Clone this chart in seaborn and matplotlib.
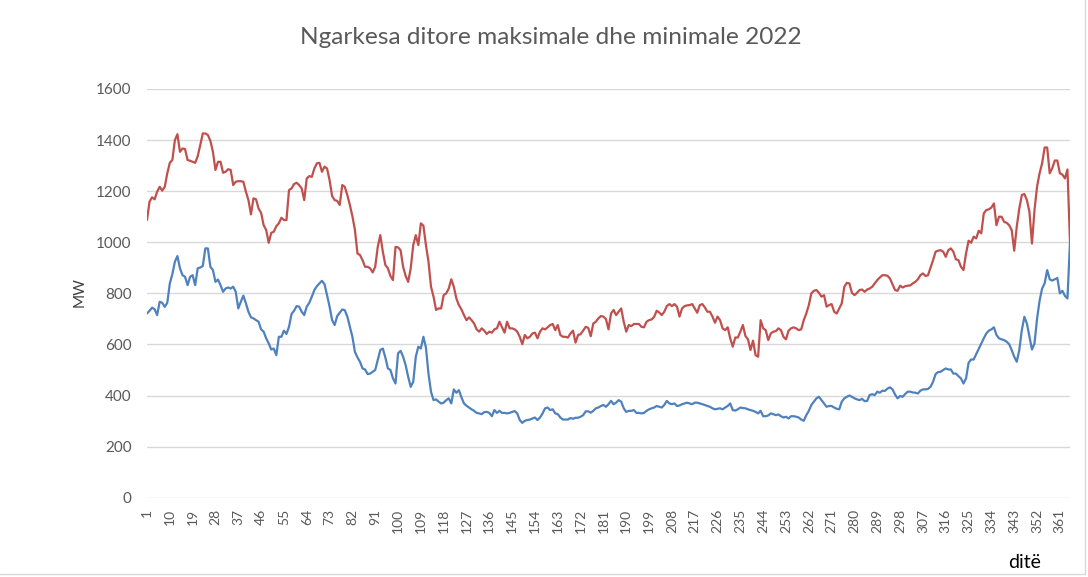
import numpy as np
import pandas as pd
import matplotlib
matplotlib.use("Agg")
import matplotlib.pyplot as plt
import seaborn as sns
from matplotlib.lines import Line2D

# daily maximum load (MW), day 1..365
max_load = [
    1087, 1159, 1176, 1168, 1198, 1217, 1202, 1217, 1270, 1311,
    1322, 1400, 1423, 1354, 1367, 1365, 1322, 1319, 1315, 1311,
    1337, 1380, 1426, 1426, 1420, 1397, 1354, 1283, 1315, 1315,
    1272, 1276, 1286, 1283, 1224, 1237, 1239, 1239, 1237, 1198,
    1165, 1109, 1172, 1168, 1132, 1115, 1067, 1048, 998, 1037,
    1041, 1063, 1074, 1096, 1087, 1087, 1204, 1211, 1228, 1233,
    1224, 1211, 1165, 1250, 1259, 1256, 1289, 1309, 1311, 1276,
    1296, 1289, 1243, 1181, 1165, 1162, 1146, 1224, 1217, 1185,
    1146, 1102, 1048, 956, 950, 930, 904, 904, 898, 882,
    904, 982, 1028, 963, 911, 898, 868, 852, 982, 980,
    969, 904, 868, 845, 898, 989, 1028, 989, 1074, 1065,
    989, 925, 826, 787, 735, 741, 741, 793, 800, 819,
    855, 826, 780, 754, 737, 715, 695, 706, 695, 682,
    659, 650, 663, 654, 641, 650, 646, 659, 663, 689,
    667, 646, 689, 663, 663, 659, 650, 630, 601, 637,
    624, 630, 643, 646, 624, 650, 663, 659, 667, 676,
    680, 656, 676, 637, 630, 630, 627, 643, 654, 607,
    637, 640, 654, 669, 665, 632, 682, 689, 702, 711,
    709, 699, 659, 721, 735, 715, 728, 741, 689, 650,
    676, 672, 680, 680, 680, 669, 667, 689, 695, 698,
    708, 732, 725, 715, 728, 750, 758, 750, 758, 748,
    709, 741, 750, 753, 754, 758, 741, 724, 754, 758,
    745, 728, 728, 709, 685, 709, 695, 663, 656, 667,
    624, 591, 627, 627, 650, 676, 633, 620, 578, 615,
    558, 552, 695, 663, 656, 617, 643, 650, 652, 663,
    656, 630, 620, 654, 663, 667, 663, 656, 659, 695,
    721, 754, 800, 810, 813, 802, 787, 793, 748, 754,
    758, 728, 721, 741, 761, 826, 841, 839, 802, 793,
    802, 813, 815, 806, 815, 819, 826, 839, 852, 862,
    871, 871, 869, 858, 835, 813, 810, 830, 823, 828,
    830, 831, 839, 845, 855, 871, 878, 868, 871, 901,
    930, 963, 967, 969, 963, 943, 969, 976, 963, 933,
    930, 904, 891, 956, 1006, 998, 1022, 1015, 1045, 1035,
    1113, 1126, 1129, 1136, 1152, 1067, 1100, 1100, 1080, 1076,
    1067, 1048, 967, 1061, 1132, 1185, 1189, 1165, 1119, 995,
    1126, 1217, 1270, 1309, 1371, 1371, 1270, 1290, 1320, 1320,
    1270, 1265, 1250, 1285, 1000,
]

# daily minimum load (MW), day 1..365
min_load = [
    721, 732, 744, 738, 715, 767, 763, 747, 763, 839,
    875, 924, 946, 898, 871, 865, 832, 865, 871, 832,
    898, 901, 907, 976, 976, 904, 891, 845, 854, 832,
    806, 819, 823, 819, 826, 806, 741, 767, 791, 761,
    728, 706, 702, 695, 689, 659, 650, 624, 604, 580,
    584, 558, 630, 630, 654, 641, 669, 719, 732, 750,
    748, 728, 715, 748, 763, 787, 813, 828, 839, 849,
    836, 793, 748, 695, 676, 711, 724, 737, 734, 709,
    669, 630, 571, 549, 532, 506, 502, 484, 486, 493,
    500, 539, 578, 584, 549, 506, 500, 467, 447, 565,
    575, 552, 519, 473, 434, 454, 552, 591, 584, 630,
    588, 486, 415, 382, 385, 376, 369, 372, 382, 389,
    369, 424, 411, 421, 393, 369, 360, 353, 346, 340,
    332, 330, 327, 335, 336, 332, 319, 343, 332, 340,
    332, 332, 330, 332, 336, 339, 330, 304, 293, 301,
    304, 306, 310, 314, 304, 314, 330, 350, 353, 343,
    346, 330, 327, 314, 306, 306, 306, 312, 309, 313,
    313, 317, 323, 338, 338, 333, 340, 350, 353, 359,
    363, 356, 366, 379, 366, 372, 382, 376, 350, 336,
    340, 340, 343, 332, 332, 330, 332, 340, 346, 350,
    353, 359, 356, 353, 363, 379, 369, 366, 369, 359,
    361, 366, 369, 372, 369, 366, 372, 372, 369, 366,
    363, 359, 356, 350, 346, 348, 350, 346, 353, 359,
    369, 343, 341, 346, 353, 351, 350, 346, 343, 340,
    336, 330, 340, 319, 319, 322, 330, 327, 323, 326,
    319, 314, 317, 310, 319, 319, 317, 314, 306, 301,
    323, 340, 363, 376, 389, 395, 382, 369, 356, 359,
    359, 353, 348, 346, 376, 389, 395, 400, 395, 389,
    385, 382, 387, 378, 379, 402, 405, 402, 415, 411,
    419, 418, 427, 432, 424, 404, 389, 398, 395, 406,
    415, 415, 412, 411, 408, 419, 424, 424, 426, 434,
    454, 484, 492, 493, 500, 506, 502, 502, 486, 486,
    476, 467, 447, 467, 528, 541, 541, 562, 584, 604,
    624, 643, 654, 659, 667, 637, 624, 620, 617, 611,
    601, 578, 552, 532, 578, 656, 708, 682, 630, 580,
    604, 700, 771, 819, 839, 891, 855, 850, 855, 860,
    800, 810, 790, 780, 1000,
]

days = list(range(1, 366))
tick_days = list(range(1, 366, 9))
y_ticks = [0, 200, 400, 600, 800, 1000, 1200, 1400, 1600]

df = pd.DataFrame({
    "dita": days * 2,
    "MW": max_load + min_load,
    "seria": ["max"] * 365 + ["min"] * 365,
})

sns.set_style("white")
plt.rcParams["font.family"] = ["Lato", "DejaVu Sans"]

fig = plt.figure(figsize=(10.88, 5.77), dpi=100)
ax = fig.add_axes([147 / 1088, 1 - 497.7 / 577, 923 / 1088, 408.7 / 577])

sns.lineplot(data=df, x="dita", y="MW", hue="seria",
             palette={"max": "#C0504D", "min": "#4F81BD"},
             linewidth=1.6, legend=False, ax=ax)

ax.set_xlim(1, 365)
ax.set_ylim(0, 1600)
ax.set_yticks(y_ticks)
ax.set_yticklabels([str(v) for v in y_ticks], fontsize=11, color="#595959")
ax.set_xticks(tick_days)
ax.set_xticklabels([str(d) for d in tick_days], rotation=90, fontsize=10, color="#595959")
ax.tick_params(axis="y", length=0, pad=11)
ax.tick_params(axis="x", length=0, pad=8)
ax.grid(axis="y", color="#D9D9D9", linewidth=1)
ax.set_axisbelow(True)
for s in ax.spines.values():
    s.set_visible(False)
ax.set_xlabel("")
ax.set_ylabel("")

fig.text(551 / 1088, 1 - 38 / 577, "Ngarkesa ditore maksimale dhe minimale 2022",
         ha="center", va="center", fontsize=17.6, color="#595959")
fig.text(80 / 1088, 1 - 292 / 577, "MW", rotation=90, ha="center", va="center",
         fontsize=11, color="#404040")
fig.text(1025 / 1088, 1 - 562 / 577, "ditë", ha="center", va="center",
         fontsize=14, color="#000000")

# chart frame edges (right and bottom)
fig.add_artist(Line2D([1085 / 1088, 1085 / 1088], [1 - 574 / 577, 1], color="#D9D9D9", lw=1))
fig.add_artist(Line2D([0, 1085 / 1088], [1 - 574 / 577, 1 - 574 / 577], color="#D9D9D9", lw=1))

fig.savefig("out.png", dpi=100)
